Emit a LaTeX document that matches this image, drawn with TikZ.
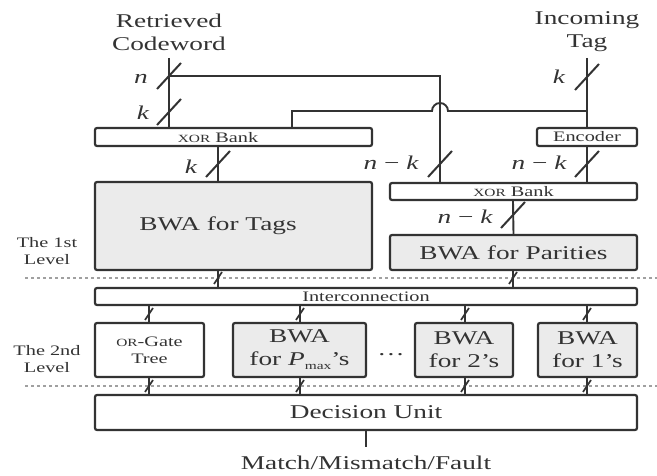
\documentclass[tikz,border=0pt]{standalone}
\usepackage{fontspec}
\setmainfont{Liberation Serif}[FakeStretch=1.4]
\usetikzlibrary{calc}
\definecolor{ink}{HTML}{333333}
\definecolor{boxgray}{HTML}{EBEBEB}
\definecolor{dotgray}{HTML}{A0A0A0}
\newcommand{\bigf}{\fontsize{19.5}{23}\selectfont}
\newcommand{\smallf}{\fontsize{14.5}{17}\selectfont}
\newcommand{\scf}{\fontsize{11}{17}\selectfont}
\newcommand{\mybus}[1]{\draw[bigslash] #1 ++(-12,13) -- ++(24,-26);}
\newcommand{\mytick}[1]{\draw[smallslash] #1 ++(-4,6) -- ++(8,-12);}
\begin{document}
\begin{tikzpicture}[x=1pt,y=-1pt,
  every node/.style={text=ink},
  box/.style={draw=ink, line width=2.2pt, rounded corners=2pt, inner sep=0pt, fill=white},
  graybox/.style={box, fill=boxgray},
  wire/.style={draw=ink, line width=1.9pt},
  bigslash/.style={draw=ink, line width=2pt},
  smallslash/.style={draw=ink, line width=1.7pt},
  lbl/.style={inner sep=0pt, font=\bigf},
  slbl/.style={inner sep=0pt, font=\smallf, align=center},
  dotline/.style={draw=dotgray, line width=1.5pt, dash pattern=on 3pt off 3pt}]
\useasboundingbox (0,0) rectangle (657,476);

% level separators
\coordinate (d1a) at (25,278);
\coordinate (d1b) at (657,278);
\coordinate (d2a) at (25,386);
\coordinate (d2b) at (657,386);
\draw[dotline] (d1a) -- (d1b);
\draw[dotline] (d2a) -- (d2b);

% inputs
\node[lbl, align=center] (rc) at (169,32) {Retrieved\\Codeword};
\node[lbl, align=center] (it) at (587,32) {Incoming\\Tag};
\coordinate (rctop) at (169,58);
\coordinate (ittop) at (587,58);
\coordinate (j1) at (169,76);
\coordinate (j2) at (587,111);
\coordinate (x292) at (292,0);
\coordinate (x440) at (440,0);
\coordinate (x218) at (218,0);
\coordinate (x513) at (513,0);
\coordinate (x149) at (149,0);
\coordinate (x300) at (300,0);
\coordinate (x465) at (465,0);
\coordinate (x587) at (587,0);
\coordinate (x169) at (169,0);
\coordinate (outend) at (366,447);

% boxes
\node[box, minimum width=277pt, minimum height=18pt] (xor1) at (233.5,137) {};
\node[slbl] (xor1t) at (218,137.5) {{\scf XOR} Bank};
\node[box, minimum width=100pt, minimum height=18pt, font=\smallf] (enc) at (587,137) {Encoder};
\node[graybox, minimum width=277pt, minimum height=88pt] (bwat) at (233.5,226) {};
\node[lbl] (bwatt) at (218,226) {BWA for Tags};
\node[box, minimum width=247pt, minimum height=17pt, font=\smallf] (xor2) at (513.5,191.5) {{\scf XOR} Bank};
\node[graybox, minimum width=247pt, minimum height=35pt, font=\bigf] (bwap) at (513.5,252.5) {BWA for Parities};
\node[box, minimum width=542pt, minimum height=17pt, font=\smallf] (inter) at (366,296.5) {Interconnection};
\node[box, minimum width=109pt, minimum height=54pt, font=\smallf, align=center] (org) at (149.5,350) {{\scf OR}-Gate\\Tree};
\node[graybox, minimum width=133pt, minimum height=54pt, font=\bigf, align=center] (bpm) at (299.5,350) {BWA\\for {\itshape P}\raisebox{-0.45ex}{\fontsize{11}{11}\selectfont max}'s};
\node[lbl] (dots) at (391,355) {\dots};
\node[graybox, minimum width=98pt, minimum height=54pt, font=\bigf, align=center] (b2) at (464,350) {BWA\\for 2's};
\node[graybox, minimum width=99pt, minimum height=54pt, font=\bigf, align=center] (b1) at (587.5,350) {BWA\\for 1's};
\node[box, minimum width=542pt, minimum height=35pt, font=\bigf] (dec) at (366,412.5) {Decision Unit};
\node[lbl] (out) at (366,463) {Match/Mismatch/Fault};

% level labels
\node[slbl] (lv1) at (47,251) {The 1st\\Level};
\node[slbl] (lv2) at (47,359) {The 2nd\\Level};

% wires
\draw[wire] (rctop) -- (x169 |- xor1.north);
\draw[wire] (j1) -- (440,76) -- (x440 |- xor2.north);
\draw[wire] (ittop) -- (enc.north);
\draw[wire] (j2) -- (448,111) arc[start angle=0, end angle=-180, radius=8] -- (292,111) -- (x292 |- xor1.north);
\draw[wire] (enc.south) -- (x587 |- xor2.north);
\draw[wire] (x218 |- xor1.south) -- (x218 |- bwat.north);
\draw[wire] (x513 |- xor2.south) -- (bwap.north);
\draw[wire] (x218 |- bwat.south) -- (x218 |- inter.north);
\draw[wire] (x513 |- bwap.south) -- (x513 |- inter.north);
\draw[wire] (x149 |- inter.south) -- (x149 |- org.north);
\draw[wire] (x300 |- inter.south) -- (x300 |- bpm.north);
\draw[wire] (x465 |- inter.south) -- (x465 |- b2.north);
\draw[wire] (x587 |- inter.south) -- (x587 |- b1.north);
\draw[wire] (x149 |- org.south) -- (x149 |- dec.north);
\draw[wire] (x300 |- bpm.south) -- (x300 |- dec.north);
\draw[wire] (x465 |- b2.south) -- (x465 |- dec.north);
\draw[wire] (x587 |- b1.south) -- (x587 |- dec.north);
\draw[wire] (dec.south) -- (outend);

% bus marks
\mybus{(169,76)}
\mybus{(169,112)}
\mybus{(587,77)}
\mybus{(440,164)}
\mybus{(587,164)}
\mybus{(218,164)}
\mybus{(513,215)}
\mytick{(218,278)}
\mytick{(513,278)}
\mytick{(149,314)}
\mytick{(300,314)}
\mytick{(465,314)}
\mytick{(587,314)}
\mytick{(149,386)}
\mytick{(300,386)}
\mytick{(465,386)}
\mytick{(587,386)}

% bus labels
\node[lbl] (ln) at (141,79) {\itshape n};
\node[lbl] (lk1) at (143,113) {\itshape k};
\node[lbl] (lk2) at (559,77) {\itshape k};
\node[lbl] (lnk1) at (391,163) {{\itshape n} − {\itshape k}};
\node[lbl] (lnk2) at (539,163) {{\itshape n} − {\itshape k}};
\node[lbl] (lk3) at (191,167) {\itshape k};
\node[lbl] (lnk3) at (465,217) {{\itshape n} − {\itshape k}};
\end{tikzpicture}
\end{document}
